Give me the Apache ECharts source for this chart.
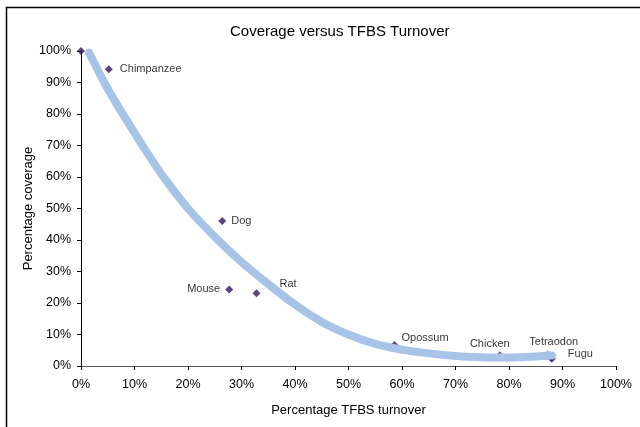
<!DOCTYPE html>
<html>
<head>
<meta charset="utf-8">
<script src="https://cdn.jsdelivr.net/npm/echarts@6/dist/echarts.min.js"></script>
<style>
  html, body { margin: 0; padding: 0; background: #fff; }
  #chart { width: 640px; height: 427px; }
</style>
</head>
<body>
<div id="chart"></div>
<script>
// species points: turnover (%) vs coverage (%)
const speciesNames = ['', 'Chimpanzee', 'Dog', 'Mouse', 'Rat', 'Opossum', 'Chicken', 'Tetraodon', 'Fugu']
const turnoverPct = [0, 5.2, 26.4, 27.7, 32.8, 58.6, 78.3, 87.9, 88.0]
const coveragePct = [100, 94.2, 46.0, 24.3, 23.1, 6.7, 3.3, 2.6, 2.3]

// trend curve
const trendX = [1.5, 5, 10, 15, 20, 25, 30, 35, 40, 45, 50, 55, 60, 65, 70, 75, 80, 85, 88]
const trendY = [99.5, 88, 74, 61, 50, 41, 33, 26, 19.5, 14, 10, 7, 5.2, 4, 3.2, 2.8, 2.7, 3, 3.3]

const tickLabels = ['0%', '10%', '20%', '30%', '40%', '50%', '60%', '70%', '80%', '90%', '100%']

const FONT = '"Liberation Sans", Arial, Helvetica, sans-serif'
const MARKER = '#361463'
const TREND = '#a7c4e7'

// label placement per species, px from the symbol box corner (style, not data)
const labelPos = {
  Chimpanzee: { position: [15, 4], align: 'left' },
  Dog: { position: [13, 4], align: 'left' },
  Mouse: { position: [-5, 4], align: 'right' },
  Rat: { position: [27, -5], align: 'left' },
  Opossum: { position: [11, -3], align: 'left' },
  Chicken: { position: [-26, -8], align: 'left' },
  Tetraodon: { position: [-18, -12], align: 'left' },
  Fugu: { position: [20, -1], align: 'left' }
}

const scatterData = speciesNames.map((n, i) => {
  const lp = labelPos[n]
  return {
    name: n,
    value: [turnoverPct[i], coveragePct[i]],
    label: lp ? { show: true, formatter: n, verticalAlign: 'middle', ...lp } : { show: false }
  }
})

const trendData = trendX.map((x, i) => {
  const item = { value: [x, trendY[i]] }
  if (i === trendX.length - 1) {
    item.symbol = 'triangle'
    item.symbolSize = [11, 11]
    item.symbolRotate = -95
    item.itemStyle = { color: TREND, borderWidth: 0 }
  }
  return item
})

const axisLabelFmt = (v) => tickLabels[Math.round(v / 10)] ?? ''

const chart = echarts.init(document.getElementById('chart'))
chart.setOption({
  animation: false,
  backgroundColor: '#fff',
  textStyle: { fontFamily: FONT },
  title: {
    text: 'Coverage versus TFBS Turnover',
    left: 230, top: 24, padding: 0,
    textStyle: { fontFamily: FONT, fontSize: 15, fontWeight: 'normal', color: '#000' }
  },
  graphic: [{
    type: 'rect',
    shape: { x: 6.5, y: 7.5, width: 700, height: 500 },
    style: { fill: 'none', stroke: '#000', lineWidth: 1.5 },
    silent: true
  }],
  grid: { left: 81, right: 24, top: 51, bottom: 61 },
  xAxis: {
    type: 'value', min: 0, max: 100, interval: 10,
    name: 'Percentage TFBS turnover', nameLocation: 'middle', nameGap: 38,
    nameMoveOverlap: false,
    nameTextStyle: { fontFamily: FONT, fontSize: 13, color: '#000' },
    axisLine: { onZero: false, lineStyle: { color: '#555', width: 1 } },
    axisTick: { show: true, length: 4, lineStyle: { color: '#000' } },
    axisLabel: { margin: 12, fontSize: 12.5, color: '#000', fontFamily: FONT, formatter: axisLabelFmt },
    splitLine: { show: false }
  },
  yAxis: {
    type: 'value', min: 0, max: 100, interval: 10,
    name: 'Percentage coverage', nameLocation: 'middle', nameGap: 46, nameRotate: 90,
    nameMoveOverlap: false,
    nameTextStyle: { fontFamily: FONT, fontSize: 13, color: '#000' },
    axisLine: { show: true, onZero: false, lineStyle: { color: '#000', width: 1 } },
    axisTick: { show: true, length: 4, lineStyle: { color: '#000' } },
    axisLabel: { margin: 10, fontSize: 12.5, color: '#000', fontFamily: FONT, formatter: axisLabelFmt },
    splitLine: { show: false }
  },
  series: [
    {
      name: 'Species',
      type: 'scatter',
      symbol: 'diamond',
      symbolSize: 8,
      itemStyle: { color: MARKER },
      label: { color: '#000', fontSize: 11, fontFamily: FONT },
      data: scatterData
    },
    {
      name: 'Trend',
      type: 'line',
      smooth: 0.35,
      showSymbol: true,
      symbol: 'none',
      lineStyle: { color: TREND, width: 8, cap: 'round' },
      itemStyle: { color: TREND },
      data: trendData
    }
  ]
})
</script>
</body>
</html>
